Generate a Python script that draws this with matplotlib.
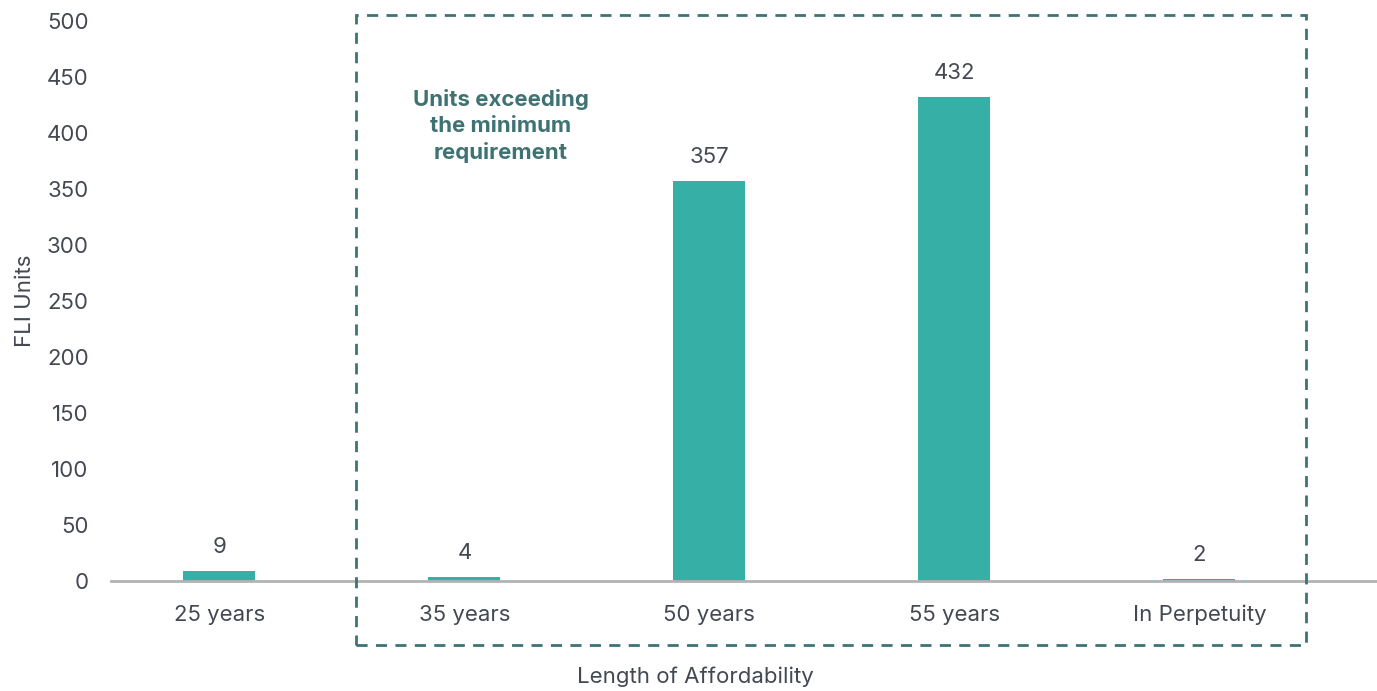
import matplotlib.pyplot as plt
from matplotlib.patches import Rectangle

plt.rcParams['font.family'] = ['Inter', 'DejaVu Sans']

categories = ["25 years", "35 years", "50 years", "55 years", "In Perpetuity"]
units = [9, 4, 357, 432, 2]
y_ticks = [0, 50, 100, 150, 200, 250, 300, 350, 400, 450, 500]

bar_color = "#36b0a6"
text_color = "#434852"
box_color = "#3f7373"

W, H = 1377, 691
fig = plt.figure(figsize=(W / 100, H / 100), dpi=100)
ax = fig.add_axes([111 / W, 1 - 581 / H, 1 - 111 / W, (581 - 21) / H])

x = list(range(len(categories)))
ax.bar(x, units, width=0.294, color=bar_color, zorder=2)
for xi, v in zip(x, units):
    ax.annotate(str(v), (xi, v), xytext=(0, 10), textcoords="offset points",
                ha="center", va="bottom", fontsize=16, color=text_color)

ax.set_xlim(-0.4424, 4.725)
ax.set_ylim(0, 500)
ax.set_yticks(y_ticks)
ax.set_xticks(x)
ax.set_xticklabels(categories)
ax.tick_params(axis="both", length=0, labelsize=16, colors=text_color)
ax.tick_params(axis="y", pad=16)
ax.tick_params(axis="x", pad=17)
for s in ["top", "right", "left"]:
    ax.spines[s].set_visible(False)
ax.spines["bottom"].set_color("#b3b3b3")
ax.spines["bottom"].set_linewidth(2)
ax.spines["bottom"].set_zorder(3)

ax.set_ylabel("FLI Units", fontsize=16, color=text_color, labelpad=8)
fig.text(695 / W, 1 - 677 / H, "Length of Affordability", ha="center", va="center",
         fontsize=16, color=text_color)

# dashed frame around the categories above the minimum term
box = Rectangle((356 / W, 1 - 645 / H), (1306 - 356) / W, (645 - 15) / H,
                transform=fig.transFigure, fill=False, edgecolor=box_color,
                linewidth=2, linestyle=(0, (4, 3)))
fig.patches.append(box)
fig.text(501 / W, 1 - 126 / H, "Units exceeding\nthe minimum\nrequirement",
         ha="center", va="center", fontsize=16, fontweight="bold",
         color=box_color, linespacing=1.38)

fig.savefig("out.png", dpi=100)
